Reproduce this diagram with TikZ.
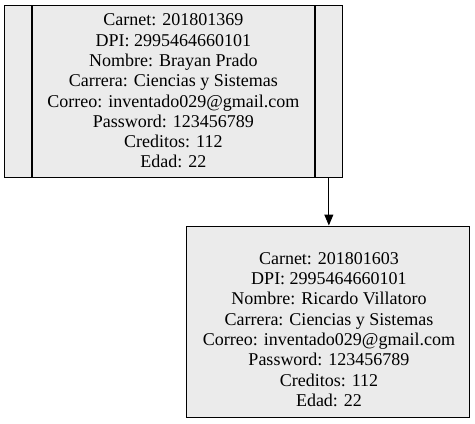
\documentclass[tikz,border=0pt]{standalone}
\usepackage{fontspec}
\setmainfont{Liberation Serif}
\usepackage{tikz}
\usetikzlibrary{arrows.meta}
\usetikzlibrary{positioning}
\usetikzlibrary{calc}
\definecolor{recgray}{HTML}{EBEBEB}

\begin{document}
\begin{tikzpicture}[x=1pt,y=-1pt,
	campo/.style={rectangle,draw,fill=recgray,line width=1pt,inner sep=0pt,minimum height=172pt},
	estnode/.style={rectangle,draw,fill=recgray,line width=1pt,inner sep=0pt,align=center,
	  font=\fontsize{18}{20.3}\selectfont},
	enlace/.style={-{Triangle[length=11pt,width=9pt]},line width=1pt}
]
\useasboundingbox (0,0) rectangle (475,424);
% registro superior: campo izquierdo, datos, campo derecho
\node (est1) [campo,minimum width=282.7pt,align=center,font=\fontsize{18}{20.3}\selectfont] at (173.35,91)
  {Carnet: 201801369\\ DPI: 2995464660101\\ Nombre: Brayan Prado\\ Carrera: Ciencias y Sistemas\\
   Correo: inventado029@gmail.com\\ Password: 123456789\\ Creditos: 112\\ Edad: 22};
\node (est1izq) [campo,minimum width=27pt,left=0pt of est1] {};
\node (est1der) [campo,minimum width=26.3pt,right=0pt of est1] {};
% registro inferior
\node (est2) [estnode,minimum width=283pt,minimum height=191pt] at (327.5,321.5) {};
\node (est2txt) [align=center,inner sep=0pt,font=\fontsize{18}{20.3}\selectfont] at (329,329.5)
  {Carnet: 201801603\\ DPI: 2995464660101\\ Nombre: Ricardo Villatoro\\ Carrera: Ciencias y Sistemas\\
   Correo: inventado029@gmail.com\\ Password: 123456789\\ Creditos: 112\\ Edad: 22};

\draw [enlace] (est1der.south) -- (est1der.south |- est2.north);
\end{tikzpicture}
\end{document}
